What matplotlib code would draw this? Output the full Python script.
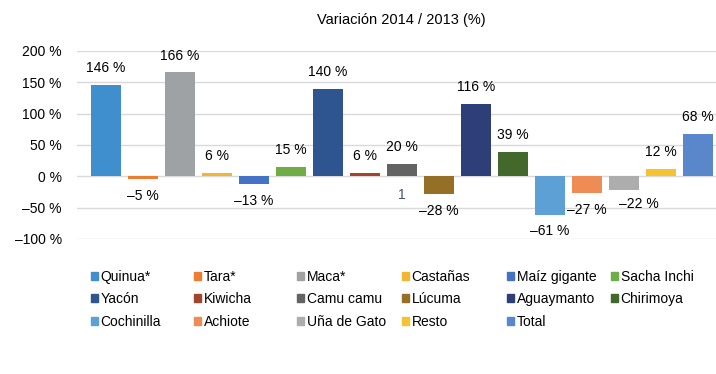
import numpy as np
import matplotlib.pyplot as plt
from matplotlib.patches import Patch

plt.rcParams['font.family'] = ['Liberation Sans', 'DejaVu Sans']

productos = ['Quinua*', 'Tara*', 'Maca*', 'Castañas', 'Maíz gigante', 'Sacha Inchi',
             'Yacón', 'Kiwicha', 'Camu camu', 'Lúcuma', 'Aguaymanto', 'Chirimoya',
             'Cochinilla', 'Achiote', 'Uña de Gato', 'Resto', 'Total']
variacion = [146, -5, 166, 6, -13, 15, 140, 6, 20, -28, 116, 39, -61, -27, -22, 12, 68]
colores = ['#3F8FCF', '#ED7D31', '#9FA2A4', '#F2B630', '#4472C4', '#70AD47',
           '#2F5590', '#A0462A', '#636363', '#946F25', '#2E3E78', '#43682B',
           '#5DA0D6', '#EF8B55', '#ADADAD', '#F5C232', '#5A86CC']
yticks = [-100, -50, 0, 50, 100, 150, 200]

fig = plt.figure(figsize=(7.16, 3.74), dpi=100)
ax = fig.add_axes([0.1075, 0.361, 0.8925, 0.5027])

x = np.arange(len(productos))
barras = ax.bar(x, variacion, width=0.8, color=colores, zorder=3)

etiquetas = [f'{v} %'.replace('-', '\u2013') for v in variacion]
anots = ax.bar_label(barras, labels=etiquetas, padding=7, fontsize=10, color='#000000')
# en el original la etiqueta de Uña de Gato esta corrida a la derecha
anots[14].xyann = (11, anots[14].xyann[1] + 2)

# etiqueta suelta que aparece en el original
ax.text(8, -30, '1', ha='center', va='center', fontsize=10, color='#44546A')

ax.set_ylim(-100, 200)
ax.set_xlim(-0.78, 16.49)
ax.set_yticks(yticks)
ax.set_yticklabels([f'{t} %'.replace('-', '\u2013') for t in yticks], fontsize=10)
ax.set_xticks([])
ax.tick_params(axis='y', length=0, pad=11)
ax.grid(axis='y', color='#D9D9D9', linewidth=1, zorder=0)
for s in ax.spines.values():
    s.set_visible(False)

fig.text(0.56, 0.9465, 'Variación 2014 / 2013 (%)', ha='center', va='center', fontsize=10.5)

# leyenda: una columna por cada posicion, 6 columnas en filas
col_x = [94, 197, 300, 405, 510, 614]
for j, xp in enumerate(col_x):
    idx = list(range(j, len(productos), 6))
    handles = [Patch(color=colores[i]) for i in idx]
    fig.legend(handles, [productos[i] for i in idx], loc='upper left',
               bbox_to_anchor=((xp - 3) / 716, 1 - 270 / 374),
               frameon=False, fontsize=10, handlelength=0.5, handleheight=0.5,
               handletextpad=0.2, labelspacing=0.6, borderaxespad=0, borderpad=0)

fig.savefig('out.png', dpi=100)
